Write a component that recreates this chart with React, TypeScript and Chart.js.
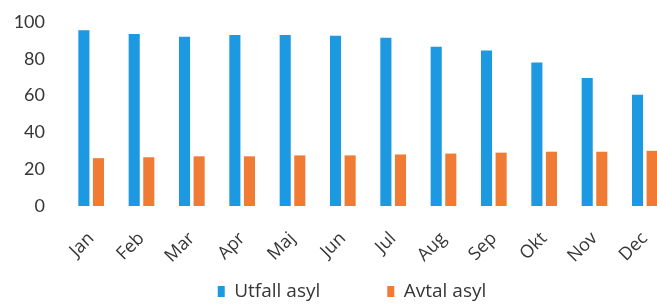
import React, { useEffect, useRef } from "react";
import { Chart, registerables } from "chart.js";

Chart.register(...registerables);

const categories = ["Jan", "Feb", "Mar", "Apr", "Maj", "Jun", "Jul", "Aug", "Sep", "Okt", "Nov", "Dec"];
const utfallAsyl = [95.5, 93.5, 92, 93, 93, 92.5, 91.5, 86.5, 84.5, 78, 69.5, 60.5];
const avtalAsyl = [26, 26.5, 27, 27, 27.5, 27.5, 28, 28.5, 29, 29.5, 29.5, 30];
const yTicks = [0, 20, 40, 60, 80, 100];

const FONT = "Lato, 'Open Sans', sans-serif";
const FONT2 = "'Open Sans', Lato, sans-serif";
const TEXT = "#363636";

export default function App() {
  const ref = useRef<HTMLCanvasElement | null>(null);

  useEffect(() => {
    document.body.style.margin = "0";
    document.body.style.overflow = "hidden";
    const canvas = ref.current;
    if (!canvas) return;
    const chart = new Chart(canvas, {
      type: "bar",
      data: {
        labels: categories,
        datasets: [
          {
            label: "Utfall asyl",
            data: utfallAsyl,
            backgroundColor: "#1d99e2",
            borderWidth: 0,
            categoryPercentage: 0.58,
            barPercentage: 0.76,
          },
          {
            label: "Avtal asyl",
            data: avtalAsyl,
            backgroundColor: "#f07b34",
            borderWidth: 0,
            categoryPercentage: 0.58,
            barPercentage: 0.76,
          },
        ],
      },
      options: {
        animation: false,
        responsive: false,
        maintainAspectRatio: false,
        layout: { padding: { top: 22, left: 34, right: 24, bottom: 0 } },
        plugins: {
          tooltip: { enabled: false },
          legend: {
            position: "bottom",
            labels: {
              color: TEXT,
              font: { family: FONT2, size: 19 },
              boxWidth: 7,
              boxHeight: 11,
              padding: 67,
            },
          },
        },
        scales: {
          x: {
            grid: { display: false, drawTicks: false },
            border: { display: false },
            ticks: {
              color: TEXT,
              font: { family: FONT2, size: 18 },
              minRotation: 45,
              maxRotation: 45,
              autoSkip: false,
              padding: 22,
            },
            afterFit: (scale: any) => {
              scale.height = 9;
              scale._computeLabelArea = () => undefined;
            },
          },
          y: {
            min: 0,
            max: 100,
            grid: { display: false, drawTicks: false },
            border: { display: false },
            afterBuildTicks: (scale: any) => {
              scale.ticks = yTicks.map((v) => ({ value: v }));
            },
            ticks: {
              color: TEXT,
              font: { family: FONT, size: 18 },
              padding: 21,
            },
            afterFit: (scale: any) => {
              scale.width = 32;
              scale.paddingTop = 0;
              scale.paddingBottom = 0;
              scale._computeLabelArea = () => undefined;
            },
          },
        },
      },
    });
    return () => chart.destroy();
  }, []);

  return (
    <div style={{ width: 657, height: 305, overflow: "hidden", background: "#fff" }}>
      <canvas ref={ref} width={694} height={311} style={{ display: "block" }} />
    </div>
  );
}
